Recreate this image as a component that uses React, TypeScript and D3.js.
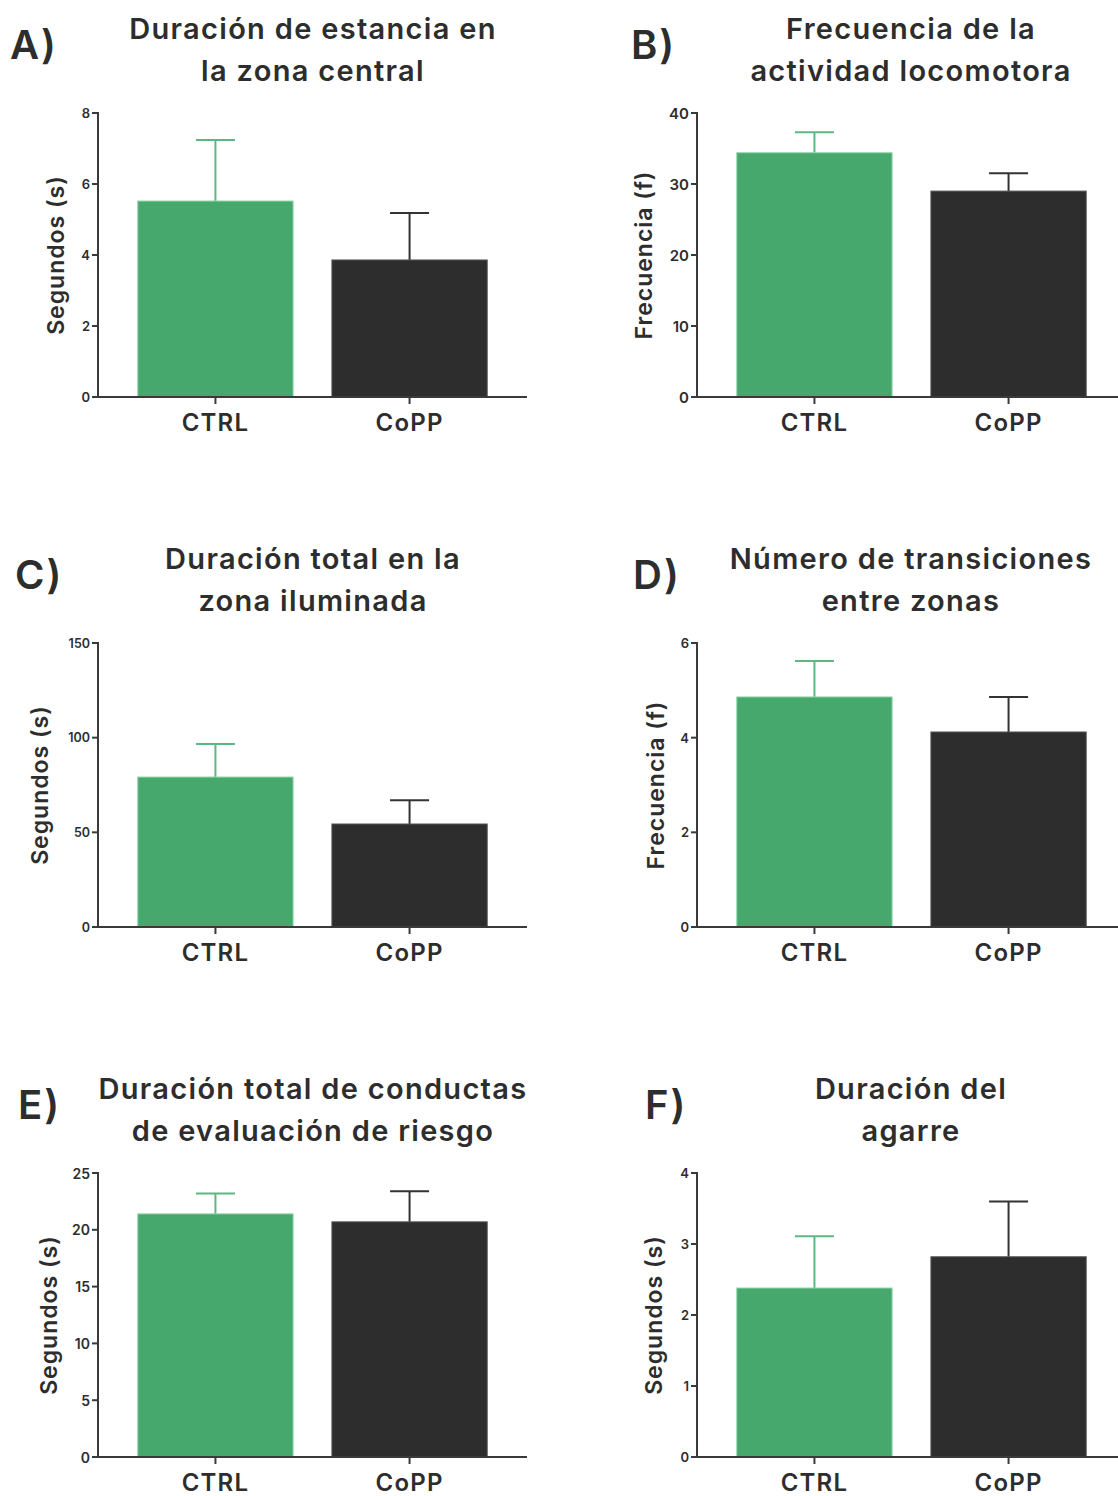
import React from "react";
import * as d3 from "d3";

const categories = ["CTRL", "CoPP"];
const panelLetters = ["A)", "B)", "C)", "D)", "E)", "F)"];
const titles = [
  ["Duración de estancia en", "la zona central"],
  ["Frecuencia de la", "actividad locomotora"],
  ["Duración total en la", "zona iluminada"],
  ["Número de transiciones", "entre zonas"],
  ["Duración total de conductas", "de evaluación de riesgo"],
  ["Duración del", "agarre"],
];
const yLabels = ["Segundos (s)", "Frecuencia (f)", "Segundos (s)", "Frecuencia (f)", "Segundos (s)", "Segundos (s)"];
const yMax = [8, 40, 150, 6, 25, 4];
const yTicks = [
  [0, 2, 4, 6, 8],
  [0, 10, 20, 30, 40],
  [0, 50, 100, 150],
  [0, 2, 4, 6],
  [0, 5, 10, 15, 20, 25],
  [0, 1, 2, 3, 4],
];
const ctrlMeans = [5.52, 34.4, 79.2, 4.86, 21.4, 2.38];
const ctrlUpper = [7.24, 37.3, 96.7, 5.62, 23.2, 3.11];
const coppMeans = [3.86, 29.0, 54.4, 4.12, 20.7, 2.82];
const coppUpper = [5.18, 31.5, 67.0, 4.86, 23.4, 3.6];

const FONT = "Inter, 'Open Sans', sans-serif";
const TXT = "#2d2d2d";
const AX = "#3a3a3a";
const barFill = ["#47a86d", "#2d2d2d"];
const barStroke = ["#8fd3a8", "#555555"];
const errColor = ["#5cb882", "#333333"];

const colAxisX = [98, 697];
const rowTop = [113, 643, 1173];
const PH = 284;
const PW = 429;
const letterX = [10, 631, 15, 633, 18, 645];
const titleCX = [313, 911];
const yLabelX = [56, 644, 40, 656, 49, 654];
const tickFont = [13, 15, 12.5, 13, 14, 13];

function Panel({ i }: { i: number }) {
  const col = i % 2;
  const row = Math.floor(i / 2);
  const ax = colAxisX[col];
  const top = rowTop[row];
  const bottom = top + PH;
  const y = d3.scaleLinear().domain([0, yMax[i]]).range([bottom, top]);
  const x = d3
    .scaleBand<string>()
    .domain(categories)
    .range([ax, ax + PW])
    .paddingInner(0.2)
    .paddingOuter(0.205);
  const means = [ctrlMeans[i], coppMeans[i]];
  const uppers = [ctrlUpper[i], coppUpper[i]];
  const bw = x.bandwidth();
  const capW = 39;
  const titleBase = top - 74;
  return (
    <g>
      <text x={letterX[i]} y={top - 54} fontFamily={FONT} fontWeight={600} fontSize={40} letterSpacing={2} fill={TXT}>
        {panelLetters[i]}
      </text>
      {titles[i].map((t, k) => (
        <text
          key={k}
          x={titleCX[col]}
          y={titleBase + k * 42}
          textAnchor="middle"
          fontFamily={FONT}
          fontWeight={600}
          fontSize={29}
          letterSpacing={1.3}
          fill={TXT}
        >
          {t}
        </text>
      ))}
      <text
        transform={`translate(${yLabelX[i]},${(top + bottom) / 2}) rotate(-90)`}
        textAnchor="middle"
        dominantBaseline="central"
        fontFamily={FONT}
        fontWeight={600}
        fontSize={23}
        letterSpacing={1}
        fill={TXT}
      >
        {yLabels[i]}
      </text>
      {categories.map((c, k) => {
        const x0 = x(c)!;
        const cx = x0 + bw / 2;
        return (
          <g key={c}>
            <line x1={cx} x2={cx} y1={y(means[k])} y2={y(uppers[k])} stroke={errColor[k]} strokeWidth={2} />
            <line x1={cx - capW / 2} x2={cx + capW / 2} y1={y(uppers[k])} y2={y(uppers[k])} stroke={errColor[k]} strokeWidth={2} />
            <rect
              x={x0}
              y={y(means[k])}
              width={bw}
              height={bottom - y(means[k])}
              fill={barFill[k]}
              stroke={barStroke[k]}
              strokeWidth={1}
            />
            <line x1={cx} x2={cx} y1={bottom} y2={bottom + 7} stroke={AX} strokeWidth={2} />
            <text
              x={cx}
              y={bottom + 34}
              textAnchor="middle"
              fontFamily={FONT}
              fontWeight={600}
              fontSize={24}
              letterSpacing={1.2}
              fill={TXT}
            >
              {c}
            </text>
          </g>
        );
      })}
      <line x1={ax} x2={ax} y1={top - 1} y2={bottom + 1} stroke={AX} strokeWidth={2} />
      <line x1={ax - 1} x2={ax + PW} y1={bottom} y2={bottom} stroke={AX} strokeWidth={2} />
      {yTicks[i].map((t) => (
        <g key={t}>
          <line x1={ax - 6} x2={ax} y1={y(t)} y2={y(t)} stroke={AX} strokeWidth={2} />
          <text
            x={ax - 8}
            y={y(t)}
            textAnchor="end"
            dominantBaseline="central"
            fontFamily={FONT}
            fontWeight={600}
            fontSize={tickFont[i]}
            fill={TXT}
          >
            {t}
          </text>
        </g>
      ))}
    </g>
  );
}

export default function App() {
  return (
    <svg
      width={1118}
      height={1496}
      viewBox="0 0 1118 1496"
      style={{ position: "absolute", left: 0, top: 0, background: "#fff" }}
    >
      <rect width={1118} height={1496} fill="#fff" />
      {panelLetters.map((_, i) => (
        <Panel key={i} i={i} />
      ))}
    </svg>
  );
}
